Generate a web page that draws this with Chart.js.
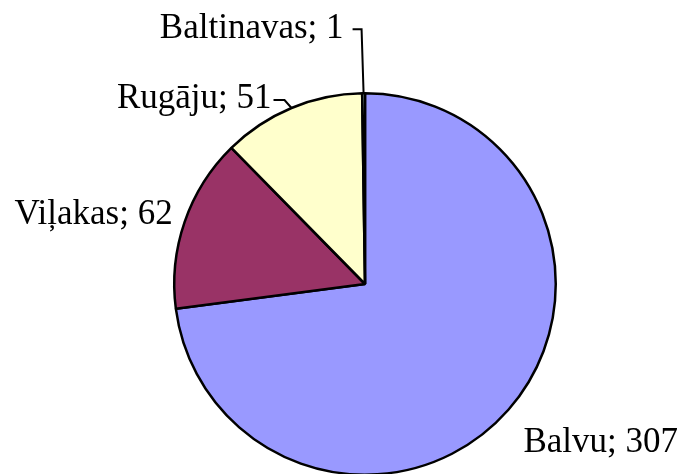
<!DOCTYPE html>
<html>
<head>
<meta charset="utf-8">
<script src="https://cdn.jsdelivr.net/npm/chart.js@4.4.0/dist/chart.umd.min.js"></script>
<style>
  html, body { margin: 0; padding: 0; background: #fff; overflow: hidden; }
  #wrap { width: 680px; height: 474px; overflow: hidden; }
</style>
</head>
<body>
<div id="wrap"><canvas id="pie" width="680" height="477"></canvas></div>
<script>
const labels = ['Balvu', 'Viļakas', 'Rugāju', 'Baltinavas'];
const values = [307, 62, 51, 1];
const colors = ['#9999FF', '#993366', '#FFFFCC', '#CCFFFF'];

// label placement relative to the slice's outer mid point
const labelPlace = [
  { dx: 15, dy: 33, align: 'left', leader: null },
  { dx: -12, dy: -7, align: 'right', leader: null },
  { dx: -20, dy: -9, align: 'right', leader: [[-7, -8], [-18, -8]] },
  { dx: -20, dy: -64, align: 'right', leader: [[-2, -64], [-11, -64]] }
];

const sliceLabels = {
  id: 'sliceLabels',
  afterDraw(chart) {
    const ctx = chart.ctx;
    const arcs = chart.getDatasetMeta(0).data;
    ctx.save();
    ctx.font = '35px "Liberation Serif", "Times New Roman", serif';
    ctx.fillStyle = '#000';
    ctx.strokeStyle = '#000';
    ctx.lineWidth = 2;
    ctx.textBaseline = 'middle';
    arcs.forEach((arc, i) => {
      const mid = (arc.startAngle + arc.endAngle) / 2;
      const ax = arc.x + Math.cos(mid) * arc.outerRadius;
      const ay = arc.y + Math.sin(mid) * arc.outerRadius;
      const p = labelPlace[i];
      if (p.leader) {
        ctx.beginPath();
        ctx.moveTo(ax, ay);
        p.leader.forEach(pt => ctx.lineTo(ax + pt[0], ay + pt[1]));
        ctx.stroke();
      }
      ctx.textAlign = p.align;
      ctx.fillText(labels[i] + '; ' + values[i], ax + p.dx, ay + p.dy);
    });
    ctx.restore();
  }
};

new Chart(document.getElementById('pie'), {
  type: 'pie',
  data: {
    labels: labels,
    datasets: [{
      data: values,
      backgroundColor: colors,
      borderColor: '#000',
      borderWidth: 2.5
    }]
  },
  options: {
    responsive: false,
    animation: false,
    layout: { padding: { top: 92, bottom: 1, left: 102, right: 52 } },
    plugins: {
      legend: { display: false },
      tooltip: { enabled: false }
    }
  },
  plugins: [sliceLabels]
});
</script>
</body>
</html>
